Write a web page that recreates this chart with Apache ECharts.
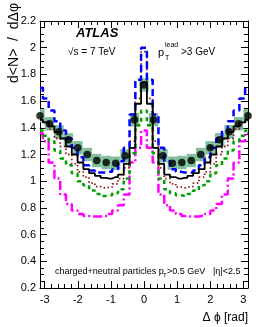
<!DOCTYPE html>
<html><head><meta charset="utf-8">
<script src="https://cdn.jsdelivr.net/npm/echarts@6/dist/echarts.min.js"></script>
<style>html,body{margin:0;padding:0;background:#fff}#c{width:261px;height:327px}</style>
</head><body><div id="c"></div>
<script>
// MC bin centres (rad)
const phiMC = [-3.142,-2.967,-2.793,-2.618,-2.443,-2.269,-2.094,-1.920,-1.745,-1.571,-1.396,-1.222,-1.047,-0.873,-0.698,-0.524,-0.349,-0.175,
  0,0.175,0.349,0.524,0.698,0.873,1.047,1.222,1.396,1.571,1.745,1.920,2.094,2.269,2.443,2.618,2.793,2.967,3.142];
// data bin centres (rad)
const phiData = [-3.142,-2.856,-2.570,-2.285,-1.999,-1.714,-1.428,-1.142,-0.857,-0.571,-0.286,
  0,0.286,0.571,0.857,1.142,1.428,1.714,1.999,2.285,2.570,2.856,3.142];

const dataVals = [1.49,1.43,1.37,1.31,1.25,1.20,1.155,1.14,1.135,1.19,1.46,
  1.72,1.46,1.19,1.135,1.14,1.155,1.20,1.25,1.31,1.37,1.43,1.49];
const dataErr = [0.05,0.05,0.05,0.05,0.05,0.05,0.05,0.05,0.05,0.05,0.05,
  0.05,0.05,0.05,0.05,0.05,0.05,0.05,0.05,0.05,0.05,0.05,0.05];

const mcBlack = [1.46,1.44,1.41,1.37,1.32,1.26,1.20,1.14,1.09,1.06,1.04,1.025,1.02,1.03,1.05,1.13,1.25,1.58,
  1.74,1.58,1.25,1.13,1.05,1.03,1.02,1.025,1.04,1.06,1.09,1.14,1.20,1.26,1.32,1.37,1.41,1.44,1.46];
const mcBlue = [1.70,1.62,1.53,1.45,1.38,1.32,1.25,1.18,1.12,1.08,1.065,1.065,1.07,1.09,1.15,1.25,1.50,1.76,
  2.00,1.76,1.50,1.25,1.15,1.09,1.07,1.065,1.065,1.08,1.12,1.18,1.25,1.32,1.38,1.45,1.53,1.62,1.70];
const mcBrown = [1.47,1.44,1.39,1.32,1.26,1.20,1.13,1.07,1.03,0.985,0.96,0.95,0.955,0.98,1.02,1.10,1.30,1.62,
  1.97,1.62,1.30,1.10,1.02,0.98,0.955,0.95,0.96,0.985,1.03,1.07,1.13,1.20,1.26,1.32,1.39,1.44,1.47];
const mcGreen = [1.38,1.34,1.30,1.23,1.17,1.12,1.06,1.00,0.97,0.93,0.905,0.89,0.895,0.91,0.94,1.02,1.21,1.42,
  1.53,1.42,1.21,1.02,0.94,0.91,0.895,0.89,0.905,0.93,0.97,1.00,1.06,1.12,1.17,1.23,1.30,1.34,1.38];
const mcMagenta = [1.36,1.30,1.14,1.02,0.90,0.83,0.78,0.755,0.74,0.735,0.735,0.74,0.755,0.78,0.82,0.90,1.14,1.25,
  1.38,1.25,1.14,0.90,0.82,0.78,0.755,0.74,0.735,0.735,0.74,0.755,0.78,0.83,0.90,1.02,1.14,1.30,1.36];

const xMajor = [-3,-2,-1,0,1,2,3];

const FONT = 'Liberation Sans, Arial, Helvetica, sans-serif';
const xMinor = [];
for (let i = -15; i <= 15; i++) xMinor.push(Math.round(i * 0.2 * 10) / 10);
const dataBinW = 0.2856;

function pairs(xs, ys){ return xs.map((x,i)=>[x, ys[i]]); }

const chart = echarts.init(document.getElementById('c'), null, {renderer:'canvas'});
const baseX = {type:'value', min:-Math.PI, max:Math.PI, splitLine:{show:false}, gridIndex:0};
const lineSeries = (vals, color, width, dash, z) => ({
  type:'line', xAxisIndex:0, yAxisIndex:0, step:'middle', symbol:'none', silent:true, z:z,
  data: pairs(phiMC, vals),
  lineStyle:{color:color, width:width, type:dash}
});

chart.setOption({
  animation:false,
  grid:{left:40, top:21, width:208, height:267},
  xAxis:[
    Object.assign({}, baseX, {position:'bottom', axisLine:{show:true,onZero:false,lineStyle:{color:'#000',width:1}},
      axisTick:{show:true,inside:true,length:7,customValues:xMajor,lineStyle:{color:'#000'}},
      axisLabel:{show:true,customValues:xMajor,color:'#000',fontSize:11,fontFamily:FONT,margin:6}}),
    Object.assign({}, baseX, {position:'bottom', axisLine:{show:false,onZero:false},
      axisTick:{show:true,inside:true,length:4,customValues:xMinor,lineStyle:{color:'#000'}},
      axisLabel:{show:false}}),
    Object.assign({}, baseX, {position:'top', axisLine:{show:true,onZero:false,lineStyle:{color:'#000',width:1}},
      axisTick:{show:true,inside:true,length:7,customValues:xMajor,lineStyle:{color:'#000'}},
      axisLabel:{show:false}}),
    Object.assign({}, baseX, {position:'top', axisLine:{show:false,onZero:false},
      axisTick:{show:true,inside:true,length:4,customValues:xMinor,lineStyle:{color:'#000'}},
      axisLabel:{show:false}})
  ],
  yAxis:[
    {type:'value', min:0.2, max:2.2, interval:0.2, position:'left', splitLine:{show:false},
      axisLine:{show:true,onZero:false,lineStyle:{color:'#000',width:1}},
      axisTick:{show:true,inside:true,length:7,lineStyle:{color:'#000'}},
      minorTick:{show:true,splitNumber:4,length:4,lineStyle:{color:'#000'}},
      axisLabel:{color:'#000',fontSize:11,fontFamily:FONT,margin:4}},
    {type:'value', min:0.2, max:2.2, interval:0.2, position:'right', splitLine:{show:false},
      axisLine:{show:true,onZero:false,lineStyle:{color:'#000',width:1}},
      axisTick:{show:true,inside:true,length:7,lineStyle:{color:'#000'}},
      minorTick:{show:true,splitNumber:4,length:4,lineStyle:{color:'#000'}},
      axisLabel:{show:false}}
  ],
  series:[
    {type:'custom', xAxisIndex:0, yAxisIndex:0, z:1, silent:true,
      data: phiData.map((x,i)=>[x, dataVals[i], dataErr[i]]),
      renderItem:function(params, api){
        const x = api.value(0), v = api.value(1), e = api.value(2);
        const p1 = api.coord([x - dataBinW/2, v + e]);
        const p2 = api.coord([x + dataBinW/2, v - e]);
        const shape = echarts.graphic.clipRectByRect(
          {x:p1[0], y:p1[1], width:p2[0]-p1[0], height:p2[1]-p1[1]},
          {x:params.coordSys.x, y:params.coordSys.y, width:params.coordSys.width, height:params.coordSys.height});
        return shape && {type:'rect', shape:shape, style:{fill:'#7fbf9c'}};
      }},
    lineSeries(mcMagenta, '#ff00ff', 2.5, [9,3,2,3], 2),
    lineSeries(mcGreen, '#00a000', 2.5, [4,4], 3),
    lineSeries(mcBrown, '#8b1a1a', 1.8, [1.5,2.5], 4),
    lineSeries(mcBlue, '#0000ff', 2.5, [7,4], 5),
    lineSeries(mcBlack, '#000000', 1.8, 'solid', 6),
    {type:'scatter', xAxisIndex:0, yAxisIndex:0, z:7, silent:true, symbol:'circle', symbolSize:7.5,
      itemStyle:{color:'#000'}, data: pairs(phiData, dataVals)}
  ],
  graphic:[
    {type:'text', x:14, y:3, rotation:Math.PI/2, style:{text:'d<N>  /  dΔφ', fontSize:14, fontFamily:FONT, fill:'#000', align:'right', verticalAlign:'middle'}},
    {type:'text', x:248, y:318, style:{text:'Δ ϕ [rad]', fontSize:12, fontFamily:FONT, fill:'#000', align:'right', verticalAlign:'middle'}},
    {type:'text', x:76, y:33, style:{text:'ATLAS', fontSize:13, fontWeight:'bold', fontStyle:'italic', fontFamily:FONT, fill:'#000', align:'left', verticalAlign:'middle'}},
    {type:'text', x:68, y:52, style:{text:'√s = 7 TeV', fontSize:10, fontFamily:FONT, fill:'#000', align:'left', verticalAlign:'middle'}},
    {type:'text', x:158, y:53, style:{text:'p', fontSize:11, fontFamily:FONT, fill:'#000', align:'left', verticalAlign:'middle'}},
    {type:'text', x:165, y:45, style:{text:'lead', fontSize:7, fontFamily:FONT, fill:'#000', align:'left', verticalAlign:'middle'}},
    {type:'text', x:165, y:58, style:{text:'T', fontSize:7, fontFamily:FONT, fill:'#000', align:'left', verticalAlign:'middle'}},
    {type:'text', x:181, y:52, style:{text:'>3 GeV', fontSize:10, fontFamily:FONT, fill:'#000', align:'left', verticalAlign:'middle'}},
    {type:'text', x:55, y:272, style:{text:'charged+neutral particles p', fontSize:9, fontFamily:FONT, fill:'#000', align:'left', verticalAlign:'middle'}},
    {type:'text', x:163, y:275, style:{text:'T', fontSize:6, fontFamily:FONT, fill:'#000', align:'left', verticalAlign:'middle'}},
    {type:'text', x:167, y:272, style:{text:'>0.5 GeV', fontSize:9, fontFamily:FONT, fill:'#000', align:'left', verticalAlign:'middle'}},
    {type:'text', x:213, y:272, style:{text:'|η|<2.5', fontSize:9, fontFamily:FONT, fill:'#000', align:'left', verticalAlign:'middle'}}
  ]
});
</script></body></html>
